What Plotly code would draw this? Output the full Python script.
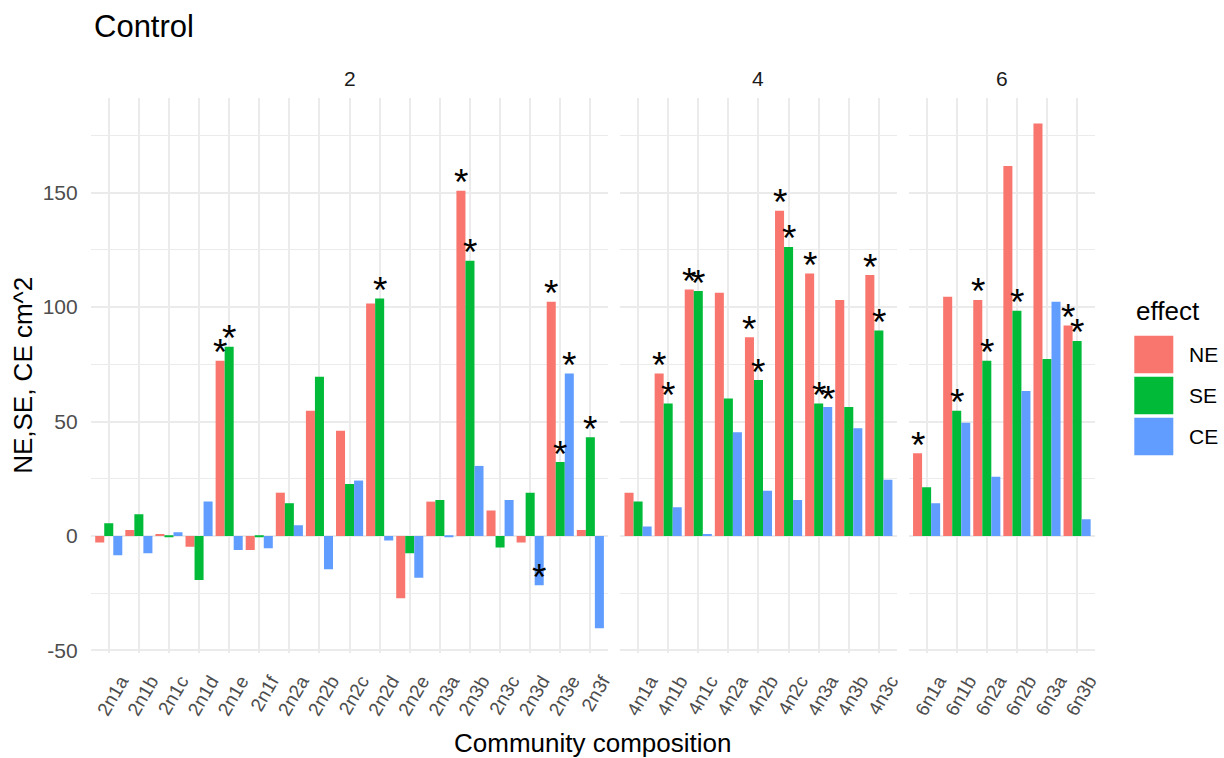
import plotly.graph_objects as go

# ---- data -----------------------------------------------------------------
effects = ["NE", "SE", "CE"]
effect_colors = ["#F8766D", "#00BA38", "#619CFF"]
facets = ["2", "4", "6"]

cats_2 = ["2n1a", "2n1b", "2n1c", "2n1d", "2n1e", "2n1f", "2n2a", "2n2b", "2n2c",
          "2n2d", "2n2e", "2n3a", "2n3b", "2n3c", "2n3d", "2n3e", "2n3f"]
ne_2 = [-2.9, 2.6, 0.9, -4.7, 76.6, -6.1, 18.9, 54.7, 46.0, 101.6, -27.2, 15.0, 150.8, 11.1, -2.9, 102.3, 2.6]
se_2 = [5.5, 9.5, -0.6, -19.2, 82.7, -0.6, 14.3, 69.6, 22.7, 103.8, -7.6, 15.7, 120.2, -5.1, 18.9, 32.3, 43.1]
ce_2 = [-8.4, -7.6, 1.6, 15.0, -6.1, -5.4, 4.7, -14.6, 24.2, -2.0, -18.3, -0.6, 30.6, 15.7, -21.5, 71.0, -40.3]

cats_4 = ["4n1a", "4n1b", "4n1c", "4n2a", "4n2b", "4n2c", "4n3a", "4n3b", "4n3c"]
ne_4 = [18.9, 71.0, 107.7, 106.3, 86.8, 142.1, 114.7, 103.1, 114.0]
se_4 = [15.0, 57.9, 107.0, 60.1, 68.1, 126.3, 57.9, 56.3, 89.8]
ce_4 = [4.1, 12.5, 0.9, 45.3, 19.7, 15.7, 56.3, 47.0, 24.5]

cats_6 = ["6n1a", "6n1b", "6n2a", "6n2b", "6n3a", "6n3b"]
ne_6 = [36.1, 104.5, 103.1, 161.6, 180.2, 92.0]
se_6 = [21.3, 54.7, 76.6, 98.4, 77.3, 85.2]
ce_6 = [14.3, 49.5, 25.9, 63.3, 102.3, 7.3]

# communities where each effect is significant (marked with "*")
sig_ne = ["2n1e", "2n3b", "2n3e", "4n1b", "4n1c", "4n2b", "4n2c", "4n3a", "4n3c",
          "6n1a", "6n2a", "6n3b"]
sig_se = ["2n1e", "2n2d", "2n3b", "2n3e", "2n3f", "4n1b", "4n1c", "4n2b", "4n2c",
          "4n3a", "4n3c", "6n1b", "6n2a", "6n2b", "6n3b"]
sig_ce = ["2n3d", "2n3e", "4n3a"]

y_ticks = [-50, 0, 50, 100, 150]
y_tick_labels = ["-50", "0", "50", "100", "150"]
y_minor = [-25, 25, 75, 125, 175]

panels = [
    (cats_2, [ne_2, se_2, ce_2]),
    (cats_4, [ne_4, se_4, ce_4]),
    (cats_6, [ne_6, se_6, ce_6]),
]
sig_sets = [set(sig_ne), set(sig_se), set(sig_ce)]

# ---- geometry (pixels) ----------------------------------------------------
W, H = 1224, 758
PANEL_LEFT = 90.7
UNIT = 30.1          # pixels per category
GAP = 11.6           # space between facet panels
PANEL_TOP, PANEL_BOTTOM = 98.3, 653.4
DODGE = 0.9          # total width of a dodged group


def fx(px):
    return px / W


def fy(py):
    return 1 - py / H


all_vals = [v for _, series in panels for s in series for v in s]
lo, hi = min(all_vals), max(all_vals)
pad = 0.05 * (hi - lo)
y_range = [lo - pad, hi + pad]

FONT = "Liberation Sans, Arial, sans-serif"
GRID = "#EBEBEB"
TICK_COL = "#4D4D4D"

fig = go.Figure()
annotations = []
layout_axes = {}

left = PANEL_LEFT
for p, (cats, series) in enumerate(panels):
    n = len(cats)
    width = (n - 1 + 1.2) * UNIT
    xa = "x" if p == 0 else f"x{p + 1}"
    ya = "y" if p == 0 else f"y{p + 1}"
    xkey = "xaxis" if p == 0 else f"xaxis{p + 1}"
    ykey = "yaxis" if p == 0 else f"yaxis{p + 1}"
    idx = list(range(n))

    for j, (eff, col, vals) in enumerate(zip(effects, effect_colors, series)):
        fig.add_trace(go.Bar(
            x=idx, y=vals, name=eff, marker=dict(color=col, line=dict(width=0)),
            xaxis=xa, yaxis=ya, offsetgroup=str(j), showlegend=False,
        ))
        # significance asterisks at the end of each bar
        off = (j - 1) * DODGE / 3
        for k, c in enumerate(cats):
            if c in sig_sets[j]:
                annotations.append(dict(
                    x=k + off, y=vals[k], xref=xa, yref=ya, text="*",
                    showarrow=False, xanchor="center", yanchor="middle", yshift=8,
                    font=dict(family=FONT, size=37, color="#000000"),
                ))

    layout_axes[xkey] = dict(
        domain=[fx(left), fx(left + width)], anchor=ya,
        range=[-0.6, n - 1 + 0.6], tickmode="array", tickvals=idx, ticktext=cats,
        tickangle=-60, tickfont=dict(family=FONT, size=19, color=TICK_COL),
        showgrid=True, gridcolor=GRID, gridwidth=1.8, zeroline=False, showline=False,
        ticks="", ticklabelstandoff=12, ticklabelshift=12, fixedrange=True,
    )
    layout_axes[ykey] = dict(
        domain=[fy(PANEL_BOTTOM), fy(PANEL_TOP)], anchor=xa, range=y_range,
        tickmode="array", tickvals=y_ticks, ticktext=y_tick_labels,
        showticklabels=(p == 0), tickfont=dict(family=FONT, size=21, color=TICK_COL),
        showgrid=True, gridcolor=GRID, gridwidth=1.8, zeroline=False, showline=False,
        ticks="", ticklabelstandoff=12,
        minor=dict(tickmode="array", tickvals=y_minor,
                   showgrid=True, gridcolor=GRID, gridwidth=1),
        fixedrange=True,
    )

    # facet strip label
    annotations.append(dict(
        x=fx(left + width / 2), y=fy(79), xref="paper", yref="paper", text=facets[p],
        showarrow=False, xanchor="center", yanchor="middle",
        font=dict(family=FONT, size=21, color="#1A1A1A"),
    ))
    panel_right = left + width
    left = panel_right + GAP

# titles
annotations.append(dict(
    x=fx(92), y=fy(26), xref="paper", yref="paper", text="Control", showarrow=False,
    xanchor="left", yanchor="middle", font=dict(family=FONT, size=31, color="#000000"),
))
annotations.append(dict(
    x=fx((PANEL_LEFT + panel_right) / 2), y=fy(743), xref="paper", yref="paper",
    text="Community composition", showarrow=False, xanchor="center", yanchor="middle",
    font=dict(family=FONT, size=26, color="#000000"),
))
annotations.append(dict(
    x=fx(23), y=fy((PANEL_TOP + PANEL_BOTTOM) / 2), xref="paper", yref="paper",
    text="NE,SE, CE cm^2", textangle=-90, showarrow=False, xanchor="center",
    yanchor="middle", font=dict(family=FONT, size=26, color="#000000"),
))

# legend
shapes = []
annotations.append(dict(
    x=fx(1134), y=fy(311), xref="paper", yref="paper", text="effect", showarrow=False,
    xanchor="left", yanchor="middle", font=dict(family=FONT, size=26, color="#000000"),
))
KEY_TOP, KEY_PITCH, KEY_SIZE = 335.7, 41.0, 37.5
for j, (eff, col) in enumerate(zip(effects, effect_colors)):
    top = KEY_TOP + j * KEY_PITCH
    shapes.append(dict(
        type="rect", xref="paper", yref="paper",
        x0=fx(1134.3), x1=fx(1173.3), y0=fy(top + KEY_SIZE), y1=fy(top),
        fillcolor=col, line=dict(width=0),
    ))
    annotations.append(dict(
        x=fx(1187), y=fy(top + KEY_SIZE / 2), xref="paper", yref="paper", text=eff,
        showarrow=False, xanchor="left", yanchor="middle",
        font=dict(family=FONT, size=21, color="#000000"),
    ))

fig.update_layout(
    width=W, height=H, template="none",
    margin=dict(l=0, r=0, t=0, b=0),
    paper_bgcolor="white", plot_bgcolor="white",
    barmode="group", bargap=0.1, bargroupgap=0,
    showlegend=False, annotations=annotations, shapes=shapes,
    **layout_axes,
)

fig.write_html("out.html")
